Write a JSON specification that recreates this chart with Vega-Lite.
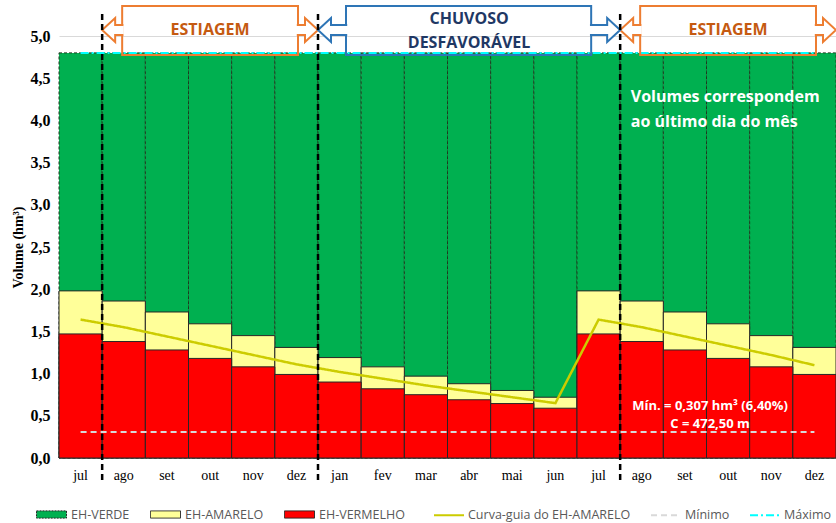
{
  "$schema": "https://vega.github.io/schema/vega-lite/v6.json",
  "width": 777,
  "height": 422,
  "autosize": {"type": "none"},
  "padding": {"left": 59, "top": 36, "right": 0, "bottom": 65},
  "background": "white",
  "config": {"view": {"stroke": null}, "font": "Open Sans"},
  "datasets": {
    "meses": [
      {"mes": "jul_1", "verde": 4.8, "amarelo": 1.98, "vermelho": 1.47, "curva": 1.64},
      {"mes": "ago_1", "verde": 4.8, "amarelo": 1.86, "vermelho": 1.38, "curva": 1.55},
      {"mes": "set_1", "verde": 4.8, "amarelo": 1.73, "vermelho": 1.28, "curva": 1.44},
      {"mes": "out_1", "verde": 4.8, "amarelo": 1.59, "vermelho": 1.18, "curva": 1.33},
      {"mes": "nov_1", "verde": 4.8, "amarelo": 1.45, "vermelho": 1.08, "curva": 1.22},
      {"mes": "dez_1", "verde": 4.8, "amarelo": 1.31, "vermelho": 0.99, "curva": 1.11},
      {"mes": "jan_2", "verde": 4.8, "amarelo": 1.19, "vermelho": 0.90, "curva": 1.02},
      {"mes": "fev_2", "verde": 4.8, "amarelo": 1.08, "vermelho": 0.82, "curva": 0.94},
      {"mes": "mar_2", "verde": 4.8, "amarelo": 0.97, "vermelho": 0.75, "curva": 0.86},
      {"mes": "abr_2", "verde": 4.8, "amarelo": 0.88, "vermelho": 0.69, "curva": 0.79},
      {"mes": "mai_2", "verde": 4.8, "amarelo": 0.80, "vermelho": 0.645, "curva": 0.72},
      {"mes": "jun_2", "verde": 4.8, "amarelo": 0.72, "vermelho": 0.59, "curva": 0.65},
      {"mes": "jul_2", "verde": 4.8, "amarelo": 1.98, "vermelho": 1.47, "curva": 1.64},
      {"mes": "ago_2", "verde": 4.8, "amarelo": 1.86, "vermelho": 1.38, "curva": 1.55},
      {"mes": "set_2", "verde": 4.8, "amarelo": 1.73, "vermelho": 1.28, "curva": 1.44},
      {"mes": "out_2", "verde": 4.8, "amarelo": 1.59, "vermelho": 1.18, "curva": 1.33},
      {"mes": "nov_2", "verde": 4.8, "amarelo": 1.45, "vermelho": 1.08, "curva": 1.22},
      {"mes": "dez_2", "verde": 4.8, "amarelo": 1.31, "vermelho": 0.99, "curva": 1.10}
    ],
    "periodos": [
      {"periodo": "ESTIAGEM", "tipo": "estiagem", "ini": 1, "fim": 6},
      {"periodo": "CHUVOSO\nDESFAVORÁVEL", "tipo": "chuvoso", "ini": 6, "fim": 13},
      {"periodo": "ESTIAGEM", "tipo": "estiagem", "ini": 13, "fim": 18}
    ],
    "notas": [
      {"nota": "Volumes correspondem\nao último dia do mês", "mes": "ago_2", "tipo": "aviso"},
      {"nota": "Mín. = 0,307 hm³ (6,40%)\nC = 472,50 m", "mes": "out_2", "tipo": "minimo"}
    ]
  },
  "layer": [
    {
      "data": {"name": "meses"},
      "encoding": {
        "x": {
          "field": "mes", "type": "ordinal", "sort": null,
          "scale": {"paddingInner": 0, "paddingOuter": 0},
          "axis": {
            "title": null, "labelAngle": 0, "ticks": false, "domain": false, "grid": false,
            "labelFont": "Liberation Serif", "labelFontSize": 14, "labelColor": "black",
            "labelPadding": 10, "labelExpr": "split(datum.label, '_')[0]"
          }
        }
      },
      "layer": [
        {
          "mark": {"type": "bar", "stroke": "#1e3a1e", "strokeWidth": 1, "strokeDash": [3, 2]},
          "encoding": {
            "y": {
              "field": "verde", "type": "quantitative", "title": "Volume (hm³)",
              "scale": {"domain": [0, 5], "nice": false, "zero": false},
              "axis": {
                "title": "Volume (hm³)", "titleFont": "Liberation Serif", "titleFontSize": 14,
                "titleFontWeight": "bold", "titleColor": "black", "titleX": -41, "titleY": 211,
                "titleAngle": 270, "titleAlign": "center", "titleBaseline": "middle",
                "labelFont": "Liberation Serif", "labelFontSize": 16, "labelFontWeight": "bold",
                "labelColor": "black", "labelPadding": 9, "ticks": false, "domain": false,
                "grid": true, "gridColor": "#D9D9D9", "gridWidth": 1,
                "values": [0, 0.5, 1, 1.5, 2, 2.5, 3, 3.5, 4, 4.5, 5],
                "labelExpr": "replace(format(datum.value, '.1f'), '.', ',')"
              }
            },
            "fill": {
              "datum": "EH-VERDE",
              "scale": {
                "domain": ["EH-VERDE", "EH-AMARELO", "EH-VERMELHO"],
                "range": ["#00B050", "#FFFF99", "#FF0000"]
              },
              "legend": {
                "orient": "none", "legendX": -23, "legendY": 463, "direction": "horizontal",
                "title": null, "symbolSize": 900, "symbolType": "M-1,-0.24L1,-0.24L1,0.24L-1,0.24Z",
                "symbolStrokeColor": "#262626", "symbolStrokeWidth": 1, "symbolOpacity": 1,
                "labelFont": "Open Sans", "labelFontSize": 12.5, "labelLimit": 250,
                "labelColor": "#595959", "labelOffset": 4, "columnPadding": 18,
                "encode": {
                  "symbols": {
                    "update": {
                      "shape": {"value": "M-1,-0.24L1,-0.24L1,0.24L-1,0.24Z"},
                      "stroke": {"value": "#262626"},
                      "strokeWidth": {"value": 1},
                      "strokeDash": {"signal": "datum.value == 'EH-VERDE' ? [2, 1] : [1, 0]"}
                    }
                  }
                }
              }
            }
          }
        },
        {
          "mark": {"type": "bar", "stroke": "#262626", "strokeWidth": 1},
          "encoding": {
            "y": {"field": "amarelo", "type": "quantitative", "title": "Volume (hm³)", "scale": {"domain": [0, 5], "nice": false, "zero": false}},
            "fill": {"datum": "EH-AMARELO"}
          }
        },
        {
          "mark": {"type": "bar", "stroke": "#262626", "strokeWidth": 1},
          "encoding": {
            "y": {"field": "vermelho", "type": "quantitative", "title": "Volume (hm³)", "scale": {"domain": [0, 5], "nice": false, "zero": false}},
            "fill": {"datum": "EH-VERMELHO"}
          }
        },
        {
          "mark": {"type": "line", "strokeWidth": 2.5},
          "encoding": {
            "y": {"field": "curva", "type": "quantitative", "title": "Volume (hm³)", "scale": {"domain": [0, 5], "nice": false, "zero": false}},
            "stroke": {
              "datum": "Curva-guia do EH-AMARELO",
              "scale": {"domain": ["Curva-guia do EH-AMARELO", "Mínimo", "Máximo"], "range": ["#CCCC00", "#D9D9D9", "#00FFFF"]},
              "legend": {
                "orient": "none", "legendX": 374, "legendY": 463, "direction": "horizontal",
                "title": null, "symbolSize": 900, "symbolType": "stroke", "symbolStrokeWidth": 2,
                "labelFont": "Open Sans", "labelFontSize": 12.5, "labelLimit": 250,
                "labelColor": "#595959", "labelOffset": 3, "columnPadding": 16
              }
            },
            "strokeDash": {
              "datum": "Curva-guia do EH-AMARELO",
              "scale": {"domain": ["Curva-guia do EH-AMARELO", "Mínimo", "Máximo"], "range": [[1, 0], [6, 4], [8, 3, 2, 3]]},
              "legend": {
                "orient": "none", "legendX": 374, "legendY": 463, "direction": "horizontal",
                "title": null, "symbolSize": 900, "symbolType": "stroke", "symbolStrokeWidth": 2,
                "labelFont": "Open Sans", "labelFontSize": 12.5, "labelLimit": 250,
                "labelColor": "#595959", "labelOffset": 3, "columnPadding": 16
              }
            }
          }
        },
        {
          "mark": {"type": "line", "strokeWidth": 2},
          "encoding": {
            "y": {"datum": 0.307, "type": "quantitative", "title": "Volume (hm³)", "scale": {"domain": [0, 5], "nice": false, "zero": false}},
            "stroke": {"datum": "Mínimo"},
            "strokeDash": {"datum": "Mínimo"}
          }
        },
        {
          "mark": {"type": "line", "strokeWidth": 2},
          "encoding": {
            "y": {"datum": 4.8, "type": "quantitative", "title": "Volume (hm³)", "scale": {"domain": [0, 5], "nice": false, "zero": false}},
            "stroke": {"datum": "Máximo"},
            "strokeDash": {"datum": "Máximo"}
          }
        },
        {
          "data": {"name": "notas"},
          "transform": [{"filter": "datum.tipo == 'aviso'"}],
          "mark": {"type": "text", "font": "Open Sans", "fontSize": 16, "fontWeight": "bold", "lineBreak": "\n", "lineHeight": 25, "baseline": "middle", "align": "left", "color": "white", "dx": -11},
          "encoding": {
            "y": {"datum": 4.277, "type": "quantitative", "title": "Volume (hm³)", "scale": {"domain": [0, 5], "nice": false, "zero": false}},
            "text": {"field": "nota"}
          }
        },
        {
          "data": {"name": "notas"},
          "transform": [{"filter": "datum.tipo == 'minimo'"}],
          "mark": {"type": "text", "font": "Open Sans", "fontSize": 13, "fontWeight": "bold", "lineBreak": "\n", "lineHeight": 18, "baseline": "middle", "align": "center", "color": "white", "dx": -18},
          "encoding": {
            "y": {"datum": 0.616, "type": "quantitative", "title": "Volume (hm³)", "scale": {"domain": [0, 5], "nice": false, "zero": false}},
            "text": {"field": "nota"}
          }
        }
      ]
    },
    {
      "data": {"name": "periodos"},
      "encoding": {
        "x": {"field": "ini", "type": "quantitative", "scale": {"domain": [0, 18], "nice": false, "zero": false}, "axis": null}
      },
      "layer": [
        {
          "transform": [{"filter": "datum.tipo == 'estiagem'"}],
          "mark": {"type": "rect", "fill": "white", "fillOpacity": 0, "stroke": "#ED7D31", "strokeWidth": 2, "xOffset": 20, "x2Offset": -20},
          "encoding": {
            "x2": {"field": "fim"},
            "y": {"datum": 5.356, "type": "quantitative", "title": "Volume (hm³)", "scale": {"domain": [0, 5], "nice": false, "zero": false}},
            "y2": {"datum": 4.775}
          }
        },
        {
          "transform": [{"filter": "datum.tipo == 'chuvoso'"}],
          "mark": {"type": "rect", "fill": "white", "fillOpacity": 0, "stroke": "#2E75B6", "strokeWidth": 2, "xOffset": 28, "x2Offset": -29},
          "encoding": {
            "x2": {"field": "fim"},
            "y": {"datum": 5.356, "type": "quantitative", "title": "Volume (hm³)", "scale": {"domain": [0, 5], "nice": false, "zero": false}},
            "y2": {"datum": 4.775}
          }
        },
        {
          "transform": [{"filter": "datum.tipo == 'estiagem'"}],
          "mark": {"type": "point", "shape": "M1.06,-0.25L0.65,-0.25L0.65,-0.6L0,0L0.65,0.6L0.65,0.25L1.06,0.25", "size": 1600, "filled": true, "fill": "white", "stroke": "#ED7D31", "strokeWidth": 2, "opacity": 1},
          "encoding": {
            "y": {"datum": 5.071, "type": "quantitative", "title": "Volume (hm³)", "scale": {"domain": [0, 5], "nice": false, "zero": false}}
          }
        },
        {
          "transform": [{"filter": "datum.tipo == 'estiagem'"}],
          "mark": {"type": "point", "shape": "M-1.06,-0.25L-0.65,-0.25L-0.65,-0.6L0,0L-0.65,0.6L-0.65,0.25L-1.06,0.25", "size": 1600, "filled": true, "fill": "white", "stroke": "#ED7D31", "strokeWidth": 2, "opacity": 1},
          "encoding": {
            "x": {"field": "fim", "type": "quantitative"},
            "y": {"datum": 5.071, "type": "quantitative", "title": "Volume (hm³)", "scale": {"domain": [0, 5], "nice": false, "zero": false}}
          }
        },
        {
          "transform": [{"filter": "datum.tipo == 'chuvoso'"}],
          "mark": {"type": "point", "shape": "M1.46,-0.25L0.65,-0.25L0.65,-0.6L0,0L0.65,0.6L0.65,0.25L1.46,0.25", "size": 1600, "filled": true, "fill": "white", "stroke": "#2E75B6", "strokeWidth": 2, "opacity": 1},
          "encoding": {
            "y": {"datum": 5.071, "type": "quantitative", "title": "Volume (hm³)", "scale": {"domain": [0, 5], "nice": false, "zero": false}}
          }
        },
        {
          "transform": [{"filter": "datum.tipo == 'chuvoso'"}],
          "mark": {"type": "point", "shape": "M-1.51,-0.25L-0.65,-0.25L-0.65,-0.6L0,0L-0.65,0.6L-0.65,0.25L-1.51,0.25", "size": 1600, "filled": true, "fill": "white", "stroke": "#2E75B6", "strokeWidth": 2, "opacity": 1},
          "encoding": {
            "x": {"field": "fim", "type": "quantitative"},
            "y": {"datum": 5.071, "type": "quantitative", "title": "Volume (hm³)", "scale": {"domain": [0, 5], "nice": false, "zero": false}}
          }
        },
        {
          "mark": {"type": "rule", "color": "black", "strokeWidth": 2.5, "strokeDash": [6, 4]},
          "encoding": {
            "y": {"datum": 5.26, "type": "quantitative", "title": "Volume (hm³)", "scale": {"domain": [0, 5], "nice": false, "zero": false}},
            "y2": {"datum": -0.3}
          }
        },
        {
          "transform": [{"filter": "datum.tipo == 'estiagem'"}, {"calculate": "(datum.ini + datum.fim) / 2", "as": "meio"}],
          "mark": {"type": "text", "font": "Open Sans", "fontSize": 16, "fontWeight": "bold", "baseline": "middle", "align": "center", "color": "#C55A11"},
          "encoding": {
            "x": {"field": "meio", "type": "quantitative"},
            "y": {"datum": 5.071, "type": "quantitative", "title": "Volume (hm³)", "scale": {"domain": [0, 5], "nice": false, "zero": false}},
            "text": {"field": "periodo"}
          }
        },
        {
          "transform": [{"filter": "datum.tipo == 'chuvoso'"}, {"calculate": "(datum.ini + datum.fim) / 2", "as": "meio"}],
          "mark": {"type": "text", "font": "Open Sans", "fontSize": 16, "fontWeight": "bold", "lineBreak": "\n", "lineHeight": 24, "baseline": "middle", "align": "center", "color": "#1F3864"},
          "encoding": {
            "x": {"field": "meio", "type": "quantitative"},
            "y": {"datum": 5.2, "type": "quantitative", "title": "Volume (hm³)", "scale": {"domain": [0, 5], "nice": false, "zero": false}},
            "text": {"field": "periodo"}
          }
        }
      ]
    }
  ],
  "resolve": {"scale": {"x": "independent"}}
}
